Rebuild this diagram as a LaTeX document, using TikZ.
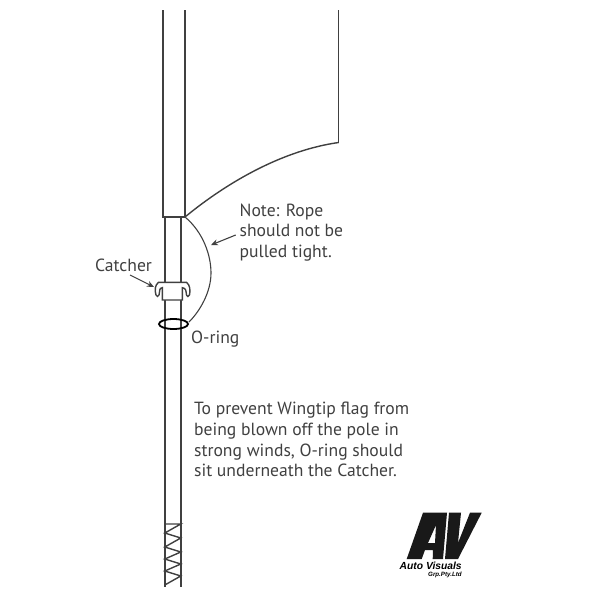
\documentclass[tikz,border=0pt]{standalone}
\usepackage{fontspec}
\setmainfont{PT Sans}
\newfontfamily\logofont{Liberation Sans}
\usetikzlibrary{arrows.meta,shapes.geometric}
\definecolor{inkgrey}{HTML}{404040}
\tikzset{
  linework/.style={draw=inkgrey,line width=1.4pt},
  thinwork/.style={draw=inkgrey,line width=1.1pt},
  pointer/.style={draw=inkgrey,line width=1.1pt,-{Stealth[length=7pt,width=6pt]}},
  label/.style={anchor=north west,inner sep=0,align=left,text=inkgrey,font=\fontsize{17.6}{20.7}\selectfont},
}
\begin{document}
\begin{tikzpicture}[x=1pt,y=-1pt]
\useasboundingbox (0,0) rectangle (600,600);
% sleeve and flag
\draw[linework] (162.8,10) -- (162.8,217) -- (185,217) -- (185,10);
\coordinate (flagfoot) at (185,217);
\coordinate (flagedge) at (338.7,142.5);
\draw[linework] (338.7,10) -- (flagedge);
\draw[linework] (flagfoot) .. controls (230,180) and (285,150) .. (flagedge);
% pole
\draw[linework] (164.8,217) -- (164.8,587);
\draw[linework] (180.8,217) -- (180.8,587);
% spring at the foot of the pole
\draw[linework] (164.8,524) -- (180.8,524) -- (164.8,533) -- (180.8,538) -- (164.8,547) -- (180.8,552)
  -- (164.8,559) -- (180.8,564) -- (164.8,571) -- (180.8,576) -- (164.8,585);
% rope
\coordinate (ropeend) at (189,322);
\draw[thinwork] (flagfoot) .. controls (203,232) and (211,255) .. (211,273) .. controls (211,292) and (200,311) .. (ropeend);
% catcher
\draw[linework,fill=white] (158.5,282.3) -- (186.5,282.3) .. controls (190,285) and (190.5,290) .. (189.5,295)
  .. controls (188.5,297) and (187,297) .. (186.5,295) .. controls (186,291) and (186,288) .. (182.3,287.7)
  -- (182.3,300) -- (162.3,300) -- (162.3,287.7) .. controls (159,288) and (160,291) .. (159,295)
  .. controls (158.5,297) and (156.5,297) .. (156,295) .. controls (154.5,290) and (155,285) .. (158.5,282.3) -- cycle;
% o-ring
\node[draw=black,line width=1.8pt,ellipse,minimum width=29pt,minimum height=10pt,inner sep=0] (oring) at (173.5,324) {};
% labels
\node[label] (note) at (239.5,203.5) {Note: Rope\\should not be\\pulled tight.};
\node[label] (catcher) at (95,258.5) {Catcher};
\node[label] (oringtext) at (191,330.5) {O-ring};
\node[label] (advice) at (194,402) {To prevent Wingtip flag from\\being blown off the pole in\\strong winds, O-ring should\\sit underneath the Catcher.};
\coordinate (ropemark) at (211,245);
\coordinate (catchermark) at (154,287);
\draw[pointer] (235.7,235) -- (ropemark);
\draw[pointer] (130,275) -- (catchermark);
% logo
\fill[black!90,even odd rule] (406.7,559) -- (423,512.7) -- (447,512.7) -- (443,559) -- (432.7,559) -- (433,550) -- (425,550) -- (421.7,559) -- cycle
  (436,525) -- (428,543) -- (435,543) -- cycle;
\fill[black!90] (449,512.7) -- (461,512.7) -- (458,543) -- (470,512.7) -- (481.7,512.7) -- (458,559) -- (445,559) -- cycle;
\node[inner sep=0,anchor=west,font=\logofont\bfseries\itshape\fontsize{10.3}{10}\selectfont] (logoname) at (399.5,566) {Auto Visuals};
\node[inner sep=0,anchor=west,font=\logofont\bfseries\itshape\fontsize{6.2}{6}\selectfont] (logosub) at (428,575) {Grp.Pty.Ltd};
\end{tikzpicture}
\end{document}
